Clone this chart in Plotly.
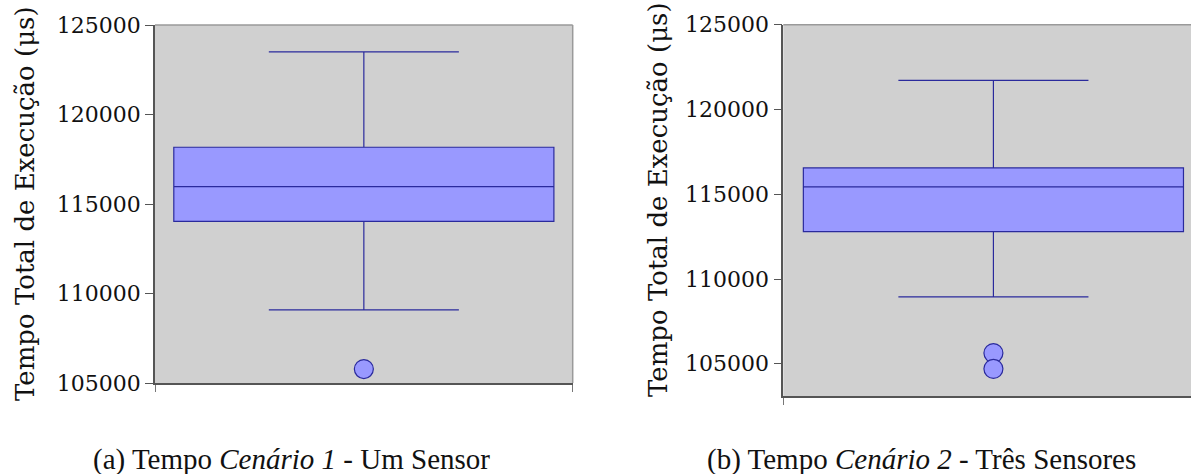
import plotly.graph_objects as go

# ---- data ----
scenario_names = ["Cenário 1", "Cenário 2"]
q1_vals = [114030, 112800]
median_vals = [115970, 115440]
q3_vals = [118170, 116550]
lower_whisker = [109090, 108950]
upper_whisker = [123500, 121720]
outliers_1 = [105780]
outliers_2 = [105630, 104700]
y_range_1 = [105000, 125000]
y_range_2 = [103100, 125000]
y_ticks = [105000, 110000, 115000, 120000, 125000]
y_tick_labels = ["105000", "110000", "115000", "120000", "125000"]
y_title = "Tempo Total de Execução (μs)"
captions = ["(a) Tempo <i>Cenário 1</i> - Um Sensor",
            "(b) Tempo <i>Cenário 2</i> - Três Sensores"]

W, H = 1191, 474
FILL = "#9999ff"
EDGE = "#2a2a9c"
SERIF = "DejaVu Serif"

fig = go.Figure()

outliers = [outliers_1, outliers_2]
for i in range(2):
    xa = "x" if i == 0 else "x2"
    ya = "y" if i == 0 else "y2"
    fig.add_trace(go.Box(
        x=[0], q1=[q1_vals[i]], median=[median_vals[i]], q3=[q3_vals[i]],
        lowerfence=[lower_whisker[i]], upperfence=[upper_whisker[i]],
        width=0.91, whiskerwidth=0.5, fillcolor=FILL,
        line=dict(color=EDGE, width=1.2), boxpoints=False,
        name=scenario_names[i], showlegend=False, xaxis=xa, yaxis=ya,
    ))
    fig.add_trace(go.Scatter(
        x=[0] * len(outliers[i]), y=outliers[i], mode="markers",
        marker=dict(size=19, color=FILL, line=dict(color=EDGE, width=1.2)),
        showlegend=False, xaxis=xa, yaxis=ya,
    ))

def yaxis(domain, rng, anchor):
    return dict(
        anchor=anchor, automargin=False,
        domain=domain, range=rng, tickmode="array", tickvals=y_ticks,
        ticktext=y_tick_labels, ticks="outside", ticklen=8, tickwidth=1.2,
        tickcolor="#555555", showline=True, linecolor="#555555", linewidth=1.6,
        showgrid=False, zeroline=False,
        tickfont=dict(family=SERIF, size=22, color="#111111"),
    )

def xaxis(domain, rng, tv, anchor):
    return dict(
        anchor=anchor, automargin=False,
        domain=domain, range=rng, tickmode="array", tickvals=tv,
        ticktext=[""] * len(tv), ticks="outside", ticklen=7, tickwidth=1.2,
        tickcolor="#777777", showline=True, linecolor="#555555", linewidth=2,
        showgrid=False, zeroline=False, fixedrange=True,
    )

fig.update_layout(
    template="none",
    width=W, height=H, margin=dict(l=0, r=0, t=0, b=0, pad=0),
    paper_bgcolor="white", plot_bgcolor="#d0d0d0",
    xaxis=xaxis([155 / W, 572.7 / W], [-0.5, 0.5], [-0.5, 0.5], "y"),
    yaxis=yaxis([1 - 383 / H, 1 - 25 / H], y_range_1, "x"),
    xaxis2=xaxis([783.3 / W, 1.0], [-0.503, 0.473], [-0.503], "y2"),
    yaxis2=yaxis([1 - 396 / H, 1 - 24.7 / H], y_range_2, "x2"),
)

# light border on top / right of plotting areas
for xr, yr, right in [("x domain", "y domain", True), ("x2 domain", "y2 domain", False)]:
    fig.add_shape(type="line", xref=xr, yref=yr, x0=0, x1=1, y0=1, y1=1,
                  line=dict(color="#9a9a9a", width=1.5))
    if right:
        fig.add_shape(type="line", xref=xr, yref=yr, x0=1, x1=1, y0=0, y1=1,
                      line=dict(color="#9a9a9a", width=1.5))

# rotated y-axis titles
for cx, cy in [(25, 204), (658, 200)]:
    fig.add_annotation(text=y_title, x=cx / W, y=1 - cy / H, xref="paper", yref="paper",
                       showarrow=False, textangle=-90, xanchor="center", yanchor="middle",
                       font=dict(family=SERIF, size=26, color="#111111"))

for cx, text in zip([291.5, 921], captions):
    fig.add_annotation(text=text, x=cx / W, y=1 - 459 / H, xref="paper", yref="paper",
                       showarrow=False, xanchor="center", yanchor="middle",
                       font=dict(family="Liberation Serif", size=29, color="#111111"))

fig.write_html("out.html", config={"displayModeBar": False},
               post_script="document.body.style.margin='0';document.body.style.padding='0';")
